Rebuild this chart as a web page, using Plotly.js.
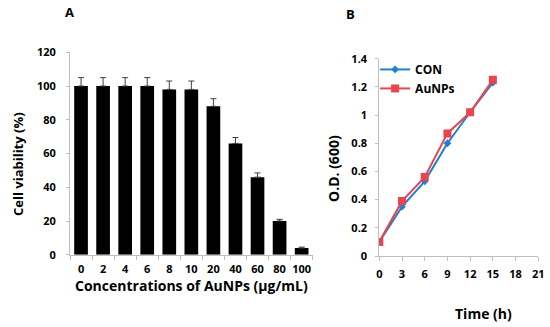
<!DOCTYPE html>
<html><head><meta charset="utf-8">
<script src="https://cdn.plot.ly/plotly-3.0.1.min.js"></script>
<style>html,body{margin:0;padding:0;background:#fff}#c{width:550px;height:327px}</style>
</head><body><div id="c"></div>
<script>
const concentrations = ["0","2","4","6","8","10","20","40","60","80","100"];
const viability = [100,100,100,100,98,98,88,66,46,20,4];
const viabilityErr = [5,5,5,5,5,5,4.5,3.5,2.5,1,0.5];
const timeH = [0,3,6,9,12,15];
const odCON = [0.1,0.35,0.53,0.80,1.02,1.23];
const odAuNPs = [0.1,0.39,0.56,0.87,1.02,1.25];

const F = "'Open Sans', 'DejaVu Sans', sans-serif";
const axisCol = "#bfbfbf";

const traces = [
  {type:"bar", x:concentrations, y:viability, xaxis:"x", yaxis:"y",
   marker:{color:"#000"}, showlegend:false,
   error_y:{type:"data", array:viabilityErr, symmetric:false, arrayminus:viabilityErr.map(()=>0), color:"#404040", thickness:1, width:3}},
  {type:"scatter", mode:"lines+markers", name:"CON", x:timeH, y:odCON, xaxis:"x2", yaxis:"y2",
   line:{color:"#1f7fd1", width:2}, marker:{symbol:"diamond", size:6, color:"#1f7fd1"}},
  {type:"scatter", mode:"lines+markers", name:"AuNPs", x:timeH, y:odAuNPs, xaxis:"x2", yaxis:"y2",
   line:{color:"#e8454c", width:2}, marker:{symbol:"square", size:8, color:"#e8454c"}}
];

const tickFont = {family:F, size:11, color:"#000", weight:"bold"};
const titleFont = {family:F, size:14, color:"#000", weight:"bold"};

const layout = {
  width:550, height:327, margin:{l:0,r:0,t:0,b:0},
  paper_bgcolor:"#fff", plot_bgcolor:"#fff",
  bargap:0.38,
  showlegend:true,
  legend:{x:0.682, y:0.832, xanchor:"left", yanchor:"top", font:{family:F, size:12, color:"#000", weight:"bold"},
          bgcolor:"rgba(0,0,0,0)", tracegroupgap:0, itemwidth:30},
  xaxis:{domain:[0.1273,0.5685], anchor:"y", type:"category", showline:true, linecolor:axisCol, linewidth:1,
         ticks:"outside", tickson:"boundaries", ticklen:4, tickcolor:axisCol, tickfont:tickFont, tickangle:0,
         ticklabelstandoff:4, showgrid:false,
         title:{text:"Concentrations of AuNPs (μg/mL)", font:titleFont, standoff:4}},
  yaxis:{domain:[0.221,0.840], anchor:"x", range:[0,120], dtick:20, showline:true, linecolor:axisCol, linewidth:1,
         ticks:"outside", ticklen:3, tickcolor:axisCol, tickfont:tickFont, ticklabelstandoff:8, showgrid:false, zeroline:false},
  xaxis2:{domain:[0.6896,0.9787], anchor:"y2", range:[0,21], dtick:3, showline:true, linecolor:axisCol, linewidth:1,
         ticks:"outside", ticklen:4, tickcolor:axisCol, tickfont:tickFont, ticklabelstandoff:4, showgrid:false, zeroline:false},
  yaxis2:{domain:[0.2171,0.8205], anchor:"x2", range:[0,1.4], dtick:0.2, showline:true, linecolor:axisCol, linewidth:1,
         ticks:"outside", ticklen:3, tickcolor:axisCol, tickfont:tickFont, ticklabelstandoff:6, showgrid:false, zeroline:false},
  annotations:[
    {text:"A", x:69/550, y:1-12/327, xref:"paper", yref:"paper", xanchor:"center", yanchor:"middle", showarrow:false,
     font:{family:F, size:13, color:"#000", weight:"bold"}},
    {text:"B", x:350/550, y:1-14/327, xref:"paper", yref:"paper", xanchor:"center", yanchor:"middle", showarrow:false,
     font:{family:F, size:13, color:"#000", weight:"bold"}},
    {text:"Cell viability (%)", x:18/550, y:1-164/327, xref:"paper", yref:"paper", xanchor:"center", yanchor:"middle",
     textangle:-90, showarrow:false, font:{family:F, size:13, color:"#000", weight:"bold"}},
    {text:"O.D. (600)", x:333/550, y:1-169/327, xref:"paper", yref:"paper", xanchor:"center", yanchor:"middle",
     textangle:-90, showarrow:false, font:{family:F, size:14, color:"#000", weight:"bold"}},
    {text:"Time (h)", x:483/550, y:1-313/327, xref:"paper", yref:"paper", xanchor:"center", yanchor:"middle", showarrow:false,
     font:titleFont}
  ]
};

Plotly.newPlot("c", traces, layout, {displayModeBar:false, staticPlot:true});
</script></body></html>
